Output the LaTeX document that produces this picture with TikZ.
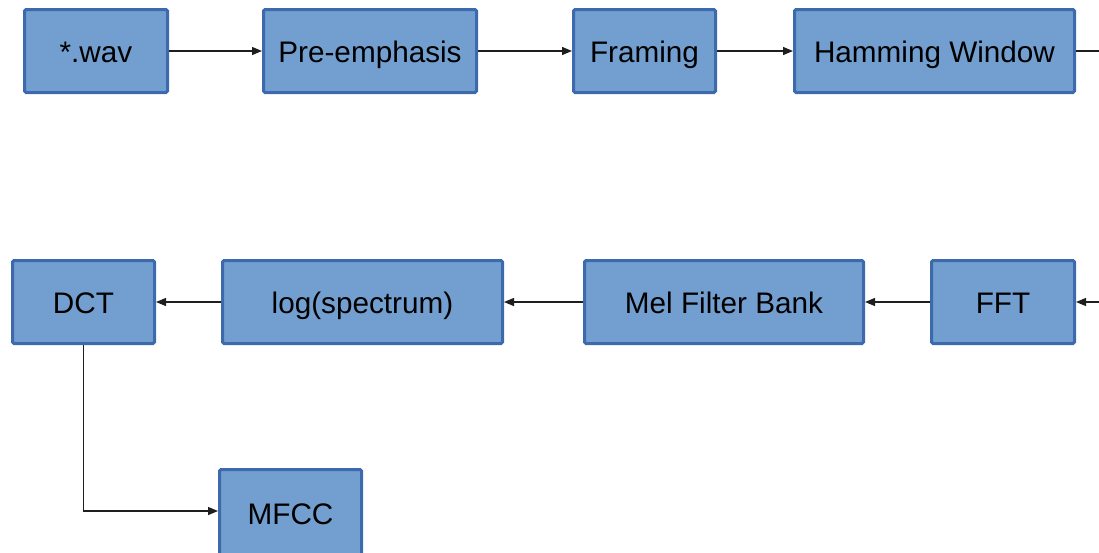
\documentclass[tikz,border=0pt]{standalone}
\usepackage{fontspec}
\setmainfont{Liberation Sans}
\usetikzlibrary{arrows.meta,positioning}
\definecolor{boxfill}{RGB}{114,159,207}
\definecolor{boxline}{RGB}{60,106,172}
\definecolor{conn}{RGB}{30,30,30}
\tikzset{
  blk/.style={draw=boxline, fill=boxfill, line width=3pt, rounded corners=1.5pt,
    inner sep=0pt, font=\fontsize{29.7}{34}\selectfont, text=black,
    text height=26pt, text depth=3pt},
  conn/.style={draw=conn, line width=1.2pt, -{Triangle[length=10pt,width=8pt]}},
  plain/.style={draw=conn, line width=1.2pt}
}
\begin{document}
\begin{tikzpicture}[x=1pt,y=-1pt]
\useasboundingbox (0,0) rectangle (1099,552);
\clip (0,0) rectangle (1099,552);
\node[blk, minimum width=143pt, minimum height=83pt] (wav) at (96,51) {*.wav};
\node[blk, minimum width=213pt, minimum height=83pt] (pre) at (370,51) {Pre-emphasis};
\node[blk, minimum width=142pt, minimum height=83pt] (frm) at (644.5,51) {Framing};
\node[blk, minimum width=280pt, minimum height=83pt] (ham) at (934.5,51) {Hamming Window};
\node[blk, minimum width=142pt, minimum height=83pt] (dct) at (83.5,302) {DCT};
\node[blk, minimum width=280pt, minimum height=83pt] (log) at (362.5,302) {log(spectrum)};
\node[blk, minimum width=279pt, minimum height=83pt] (mel) at (724,302) {Mel Filter Bank};
\node[blk, minimum width=143pt, minimum height=83pt] (fft) at (1003,302) {FFT};
\node[blk, minimum width=142pt, minimum height=87pt] (mfcc) at (290.5,513) {MFCC};
\coordinate (r1) at (1140,51);
\coordinate (r2) at (1140,302);
\path[conn] (wav) -- (pre);
\path[conn] (pre) -- (frm);
\path[conn] (frm) -- (ham);
\path[plain] (ham.east) -- (r1) -- (r2);
\path[conn] (r2) -- (fft.east);
\path[conn] (fft) -- (mel);
\path[conn] (mel) -- (log);
\path[conn] (log) -- (dct);
\path[conn] (dct.south) |- ([yshift=2pt]mfcc.west);
\end{tikzpicture}
\end{document}
